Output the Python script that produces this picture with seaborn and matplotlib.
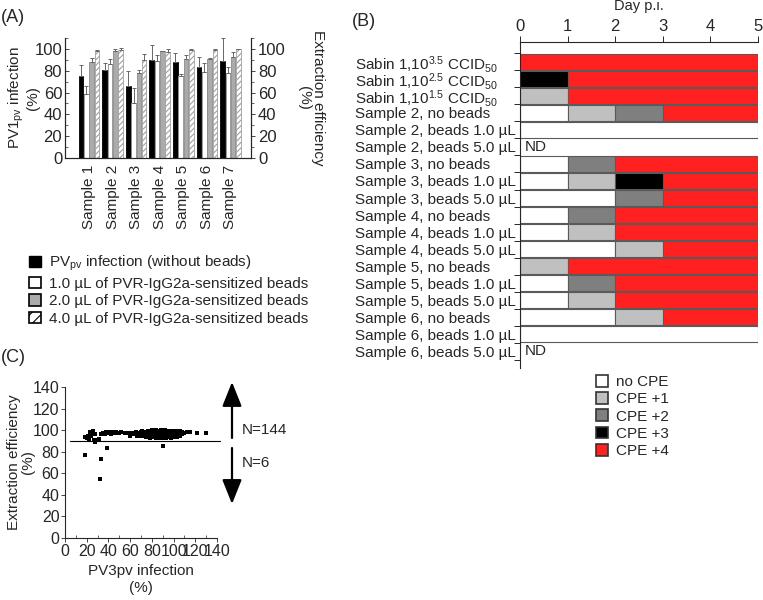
import numpy as np
import pandas as pd
import matplotlib
matplotlib.use("Agg")
import matplotlib.pyplot as plt
import seaborn as sns
from matplotlib.patches import Patch

# ---------------- Panel A data ----------------
samples = ["Sample 1", "Sample 2", "Sample 3", "Sample 4", "Sample 5", "Sample 6", "Sample 7"]
cond_labels = ["PV$_{\\rm pv}$ infection (without beads)",
               "1.0 µL of PVR-IgG2a-sensitized beads",
               "2.0 µL of PVR-IgG2a-sensitized beads",
               "4.0 µL of PVR-IgG2a-sensitized beads"]
no_beads = [75, 81, 66, 90, 88, 83, 89]
no_beads_top = [85, 87, 80, 104, 96, 93, 110]
beads_1 = [59, 86, 50, 89, 75, 79, 78]
beads_1_top = [66, 91, 64, 94, 77, 87, 83]
beads_2 = [88, 98, 78, 98, 91, 91, 93]
beads_2_top = [92, 100, 81, 98, 94, 92, 97]
beads_4 = [98, 99, 90, 97, 99, 99, 100]
beads_4_top = [99, 101, 95, 100, 100, 100, 100]

# ---------------- Panel B data ----------------
row_labels = ["Sabin 1,10$^{3.5}$ CCID$_{50}$",
              "Sabin 1,10$^{2.5}$ CCID$_{50}$",
              "Sabin 1,10$^{1.5}$ CCID$_{50}$",
              "Sample 2, no beads", "Sample 2, beads 1.0 µL", "Sample 2, beads 5.0 µL",
              "Sample 3, no beads", "Sample 3, beads 1.0 µL", "Sample 3, beads 5.0 µL",
              "Sample 4, no beads", "Sample 4, beads 1.0 µL", "Sample 4, beads 5.0 µL",
              "Sample 5, no beads", "Sample 5, beads 1.0 µL", "Sample 5, beads 5.0 µL",
              "Sample 6, no beads", "Sample 6, beads 1.0 µL", "Sample 6, beads 5.0 µL"]
# CPE score for day intervals 0-1, 1-2, 2-3, 3-4, 4-5 (None = not determined)
cpe_scores = [
    [4, 4, 4, 4, 4],
    [3, 4, 4, 4, 4],
    [1, 4, 4, 4, 4],
    [0, 1, 2, 4, 4],
    [0, 0, 0, 0, 0],
    None,
    [0, 2, 4, 4, 4],
    [0, 1, 3, 4, 4],
    [0, 0, 2, 4, 4],
    [0, 2, 4, 4, 4],
    [0, 1, 4, 4, 4],
    [0, 0, 1, 4, 4],
    [1, 4, 4, 4, 4],
    [0, 2, 4, 4, 4],
    [0, 1, 4, 4, 4],
    [0, 0, 1, 4, 4],
    [0, 0, 0, 0, 0],
    None,
]
days = [0, 1, 2, 3, 4, 5]
cpe_names = ["no CPE", "CPE +1", "CPE +2", "CPE +3", "CPE +4"]
cpe_colors = ["#ffffff", "#c0c0c0", "#7f7f7f", "#000000", "#ff2020"]

# ---------------- Panel C data ----------------
pv3_x = [18, 20, 22, 23, 25, 26, 24, 27, 30, 31, 28, 21,
         37, 38, 40, 41, 42, 44, 45, 47, 50, 52, 55,
         60, 61, 63, 65, 66,
         68, 70, 71, 72, 73, 74, 75, 76, 77, 78, 78, 79, 80, 80, 81, 82, 82, 83, 83, 84, 84,
         85, 85, 86, 86, 87, 87, 88, 88, 89, 89, 90, 90, 91, 91, 92, 92, 93, 93, 94, 94,
         95, 95, 96, 97, 97, 98, 98, 99, 100, 100, 101, 102, 103, 104, 105, 106, 107, 108,
         110, 112, 115, 122, 130,
         74, 76, 79, 80, 81, 82, 83, 84, 85, 86, 87, 88, 89, 90, 90, 91, 92, 93, 94, 95,
         96, 96, 97, 98, 99, 100, 101, 102, 103, 104, 105, 106, 107, 108, 109, 88, 86, 84,
         79, 77, 75, 72, 70, 68, 64, 57, 48, 43, 35, 33,
         18, 33, 32, 39, 90, 28]
eff_y = [94, 93, 92, 98, 97, 99, 95, 90.5, 91, 92, 96, 95,
         96, 98, 97, 98, 96, 97, 97, 98, 97, 98, 97,
         95, 97, 96, 98, 95,
         97, 96, 99, 95, 97, 98, 94, 99, 96, 97, 93, 98, 100, 95, 97, 99, 94, 96, 98, 95, 100,
         97, 93, 99, 96, 94, 98, 100, 95, 97, 93, 99, 96, 94, 98, 100, 95, 97, 93, 99, 96,
         94, 98, 97, 95, 99, 96, 93, 98, 97, 94, 99, 96, 98, 95, 97, 99, 96, 98,
         97, 98, 98, 97, 97,
         96, 97, 95, 98, 94, 97, 100, 97, 99, 94, 96, 98, 99, 94, 97, 96, 98, 99, 94, 96,
         99, 94, 97, 99, 95, 99, 96, 98, 94, 97, 99, 95, 98, 96, 97, 93, 98, 93,
         97, 98, 96, 98, 98, 95, 97, 97, 97, 98, 97, 96,
         77, 73, 55, 83, 85, 89]
threshold = 90
threshold_x = [5, 143]

# ---------------- Style ----------------
sns.set_style("ticks")
plt.rcParams["font.family"] = ["Liberation Sans", "DejaVu Sans"]
plt.rcParams["mathtext.fontset"] = "custom"
plt.rcParams["mathtext.rm"] = "Liberation Sans"
plt.rcParams["mathtext.it"] = "Liberation Sans:italic"
plt.rcParams["mathtext.bf"] = "Liberation Sans:bold"
plt.rcParams["axes.linewidth"] = 0.8
plt.rcParams["hatch.linewidth"] = 0.8

W, H = 763, 600
fig = plt.figure(figsize=(W / 100, H / 100), dpi=100)

def fx(px):
    return px / W

def fy(py):
    return 1 - py / H

FS = 11

# ---------------- Panel A ----------------
axA = fig.add_axes([fx(65), fy(158), fx(186), 120 / H])
values = [no_beads, beads_1, beads_2, beads_4]
tops = [no_beads_top, beads_1_top, beads_2_top, beads_4_top]
df = pd.DataFrame({
    "sample": samples * 4,
    "condition": sum([[c] * len(samples) for c in cond_labels], []),
    "value": sum(values, []),
})
faces = ["#000000", "#ffffff", "#ababab", "#ffffff"]
edges = ["#000000", "#8a8a8a", "#8a8a8a", "#a0a0a0"]
hatches = [None, None, None, "//////"]
sns.barplot(data=df, x="sample", y="value", hue="condition", hue_order=cond_labels,
            order=samples, palette=faces, width=0.9, gap=0.12, errorbar=None,
            legend=False, ax=axA, saturation=1)
bar_conts = list(axA.containers)
for k, cont in enumerate(bar_conts):
    xs = []
    for b in cont.patches:
        b.set_facecolor(faces[k])
        b.set_edgecolor(edges[k])
        b.set_linewidth(0.6)
        if hatches[k]:
            b.set_hatch(hatches[k])
        xs.append(b.get_x() + b.get_width() / 2)
    v = np.array(values[k], dtype=float)
    t = np.array(tops[k], dtype=float)
    axA.errorbar(xs, v, yerr=[np.zeros_like(v), t - v], fmt="none",
                 ecolor="#666666", elinewidth=0.7, capsize=1.5, capthick=0.7)
axA.set_xlim(-1.02, 6.87)
axA.set_ylim(0, 110)
axA.set_yticks(np.arange(0, 101, 20))
axA.set_yticks(np.arange(0, 111, 10), minor=True)
axA.tick_params(axis="y", labelsize=FS + 1, direction="in", length=3, width=0.6, pad=2)
axA.tick_params(axis="y", which="minor", direction="in", length=2, width=0.5)
axA.tick_params(axis="x", labelsize=FS, length=0, rotation=90, pad=5)
axA.set_xlabel("")
axA.set_ylabel("PV1$_{\\rm pv}$ infection\n(%)", fontsize=FS, linespacing=1.0)
axA.yaxis.set_label_coords(-0.135, 0.5)
axA.spines["top"].set_visible(False)
axA2 = axA.twinx()
axA2.set_ylim(0, 110)
axA2.set_yticks(np.arange(0, 101, 20))
axA2.set_yticks(np.arange(0, 111, 10), minor=True)
axA2.tick_params(axis="y", labelsize=FS + 1, direction="out", length=3, width=0.6, pad=2)
axA2.tick_params(axis="y", which="minor", direction="out", length=2, width=0.5)
axA2.set_ylabel("Extraction efficiency\n(%)", rotation=270, fontsize=FS,
                linespacing=1.0, va="bottom")
axA2.yaxis.set_label_coords(1.245, 0.5)
axA2.spines["top"].set_visible(False)

legA = [Patch(facecolor="#000000", edgecolor="#000000"),
        Patch(facecolor="#ffffff", edgecolor="#000000", linewidth=1.2),
        Patch(facecolor="#ababab", edgecolor="#000000", linewidth=1.2),
        Patch(facecolor="#ffffff", edgecolor="#000000", hatch="///", linewidth=1.2)]
fig.legend(legA, cond_labels, loc="upper left", bbox_to_anchor=(fx(29), fy(254)),
           frameon=False, fontsize=FS, handlelength=0.8, handleheight=0.8,
           handletextpad=0.5, labelspacing=0.22, borderpad=0, borderaxespad=0)

# ---------------- Panel B ----------------
axB = fig.add_axes([fx(520), fy(368), fx(238), 326 / H])
for i, sc in enumerate(cpe_scores):
    if sc is None:
        axB.text(0.1, i, "ND", va="center", ha="left", fontsize=FS)
        continue
    start = 0
    for j in range(1, len(sc) + 1):
        if j == len(sc) or sc[j] != sc[start]:
            axB.barh(i, days[j] - days[start], left=days[start], height=0.92,
                     color=cpe_colors[sc[start]], edgecolor="#5a5a5a", linewidth=0.8)
            start = j
axB.set_xlim(0, 5)
axB.set_ylim(17.98, -1.16)
axB.xaxis.tick_top()
axB.xaxis.set_label_position("top")
axB.set_xticks(days)
axB.set_xlabel("Day p.i.", fontsize=FS - 0.5, labelpad=6)
axB.tick_params(axis="x", labelsize=FS + 1, direction="out", length=4, width=0.7, pad=2)
axB.set_yticks(range(len(row_labels)))
axB.set_yticklabels(row_labels, fontsize=FS, ha="left")
axB.tick_params(axis="y", length=0, pad=(520 - 355) * 0.72)
axB.set_yticks(np.arange(-0.5, len(row_labels), 1), minor=True)
axB.tick_params(axis="y", which="minor", direction="out", length=4, width=0.7)
axB.spines["right"].set_visible(False)
axB.spines["bottom"].set_visible(False)

legB = [Patch(facecolor=c, edgecolor="#333333", linewidth=1.2) for c in cpe_colors]
fig.legend(legB, cpe_names, loc="upper left", bbox_to_anchor=(fx(596), fy(375)),
           frameon=False, fontsize=FS, handlelength=0.8, handleheight=0.8,
           handletextpad=0.5, labelspacing=0.2, borderpad=0, borderaxespad=0)

# ---------------- Panel C ----------------
axC = fig.add_axes([fx(65), fy(538), fx(152), 151 / H])
sns.scatterplot(x=pv3_x, y=eff_y, marker="s", s=6, color="black", linewidth=0, ax=axC)
axC.plot(threshold_x, [threshold, threshold], color="black", lw=0.8, clip_on=False)
axC.set_xlim(0, 140)
axC.set_ylim(0, 140)
axC.set_xticks(np.arange(0, 141, 20))
axC.set_xticks(np.arange(0, 141, 10), minor=True)
axC.set_yticks(np.arange(0, 141, 20))
axC.tick_params(axis="both", labelsize=FS + 0.5, length=3, width=0.6, pad=1)
axC.tick_params(axis="x", which="minor", direction="in", length=2, width=0.5)
axC.set_xlabel("PV3pv infection\n(%)", fontsize=FS, labelpad=4, linespacing=1.25)
axC.set_ylabel("Extraction efficiency\n(%)", fontsize=FS, linespacing=1.0)
axC.yaxis.set_label_coords(-0.2, 0.5)
sns.despine(ax=axC)

arrow_kw = dict(arrowstyle="-|>,head_length=1.5,head_width=0.6", lw=1.6, color="black",
                shrinkA=0, shrinkB=0)
axC.annotate("", xy=(fx(232), fy(382)), xytext=(fx(232), fy(438)),
             xycoords="figure fraction", textcoords="figure fraction", arrowprops=arrow_kw)
axC.annotate("", xy=(fx(232), fy(504)), xytext=(fx(232), fy(448)),
             xycoords="figure fraction", textcoords="figure fraction", arrowprops=arrow_kw)
fig.text(fx(242), fy(430), "N=144", fontsize=FS, va="center", ha="left")
fig.text(fx(242), fy(463), "N=6", fontsize=FS, va="center", ha="left")

# ---------------- Panel letters ----------------
fig.text(fx(1), fy(18), "(A)", fontsize=FS + 2, va="center", ha="left")
fig.text(fx(352), fy(22), "(B)", fontsize=FS + 2, va="center", ha="left")
fig.text(fx(1), fy(358), "(C)", fontsize=FS + 2, va="center", ha="left")

fig.savefig("out.png", dpi=100)
